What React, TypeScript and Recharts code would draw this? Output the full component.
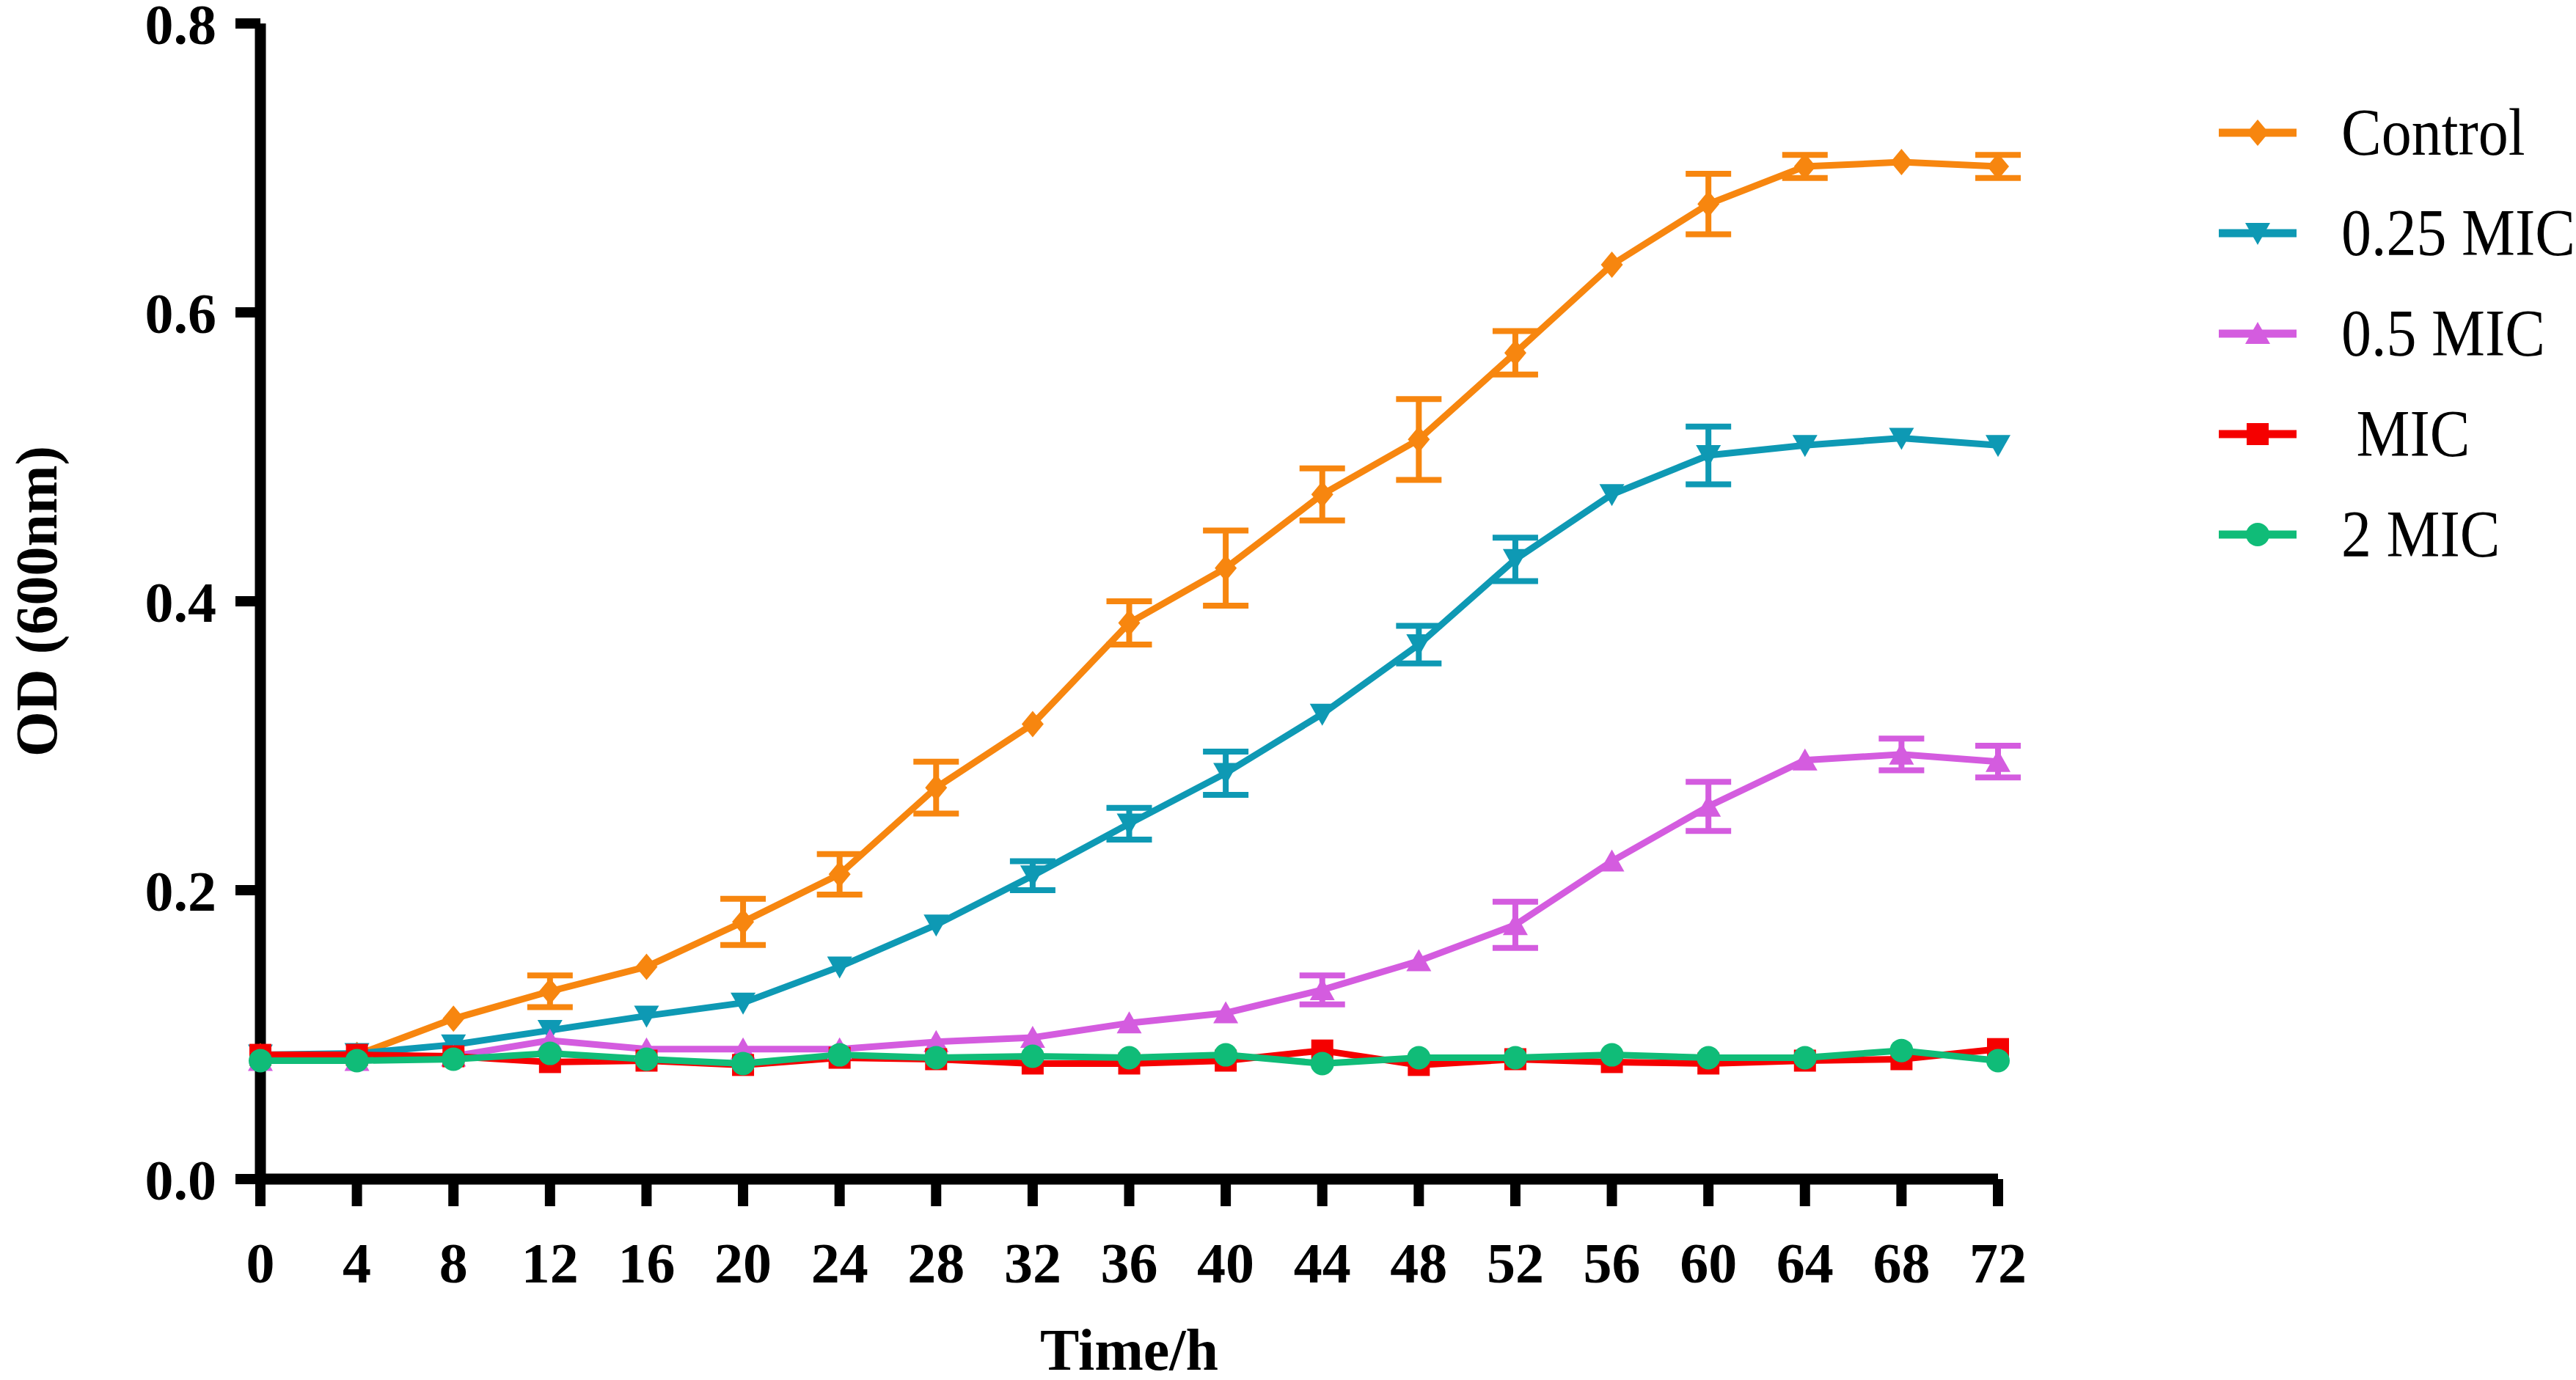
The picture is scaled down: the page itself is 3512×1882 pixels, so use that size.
import { CartesianGrid, ErrorBar, Label, Legend, Line, LineChart, XAxis, YAxis } from 'recharts'

const hours = [0, 4, 8, 12, 16, 20, 24, 28, 32, 36, 40, 44, 48, 52, 56, 60, 64, 68, 72]
const xTicks = [0, 4, 8, 12, 16, 20, 24, 28, 32, 36, 40, 44, 48, 52, 56, 60, 64, 68, 72]
const yTicks = [0, 0.2, 0.4, 0.6, 0.8]

const control = [0.085, 0.086, 0.111, 0.13, 0.147, 0.178, 0.211, 0.271, 0.315, 0.385, 0.423, 0.474, 0.512, 0.572, 0.633, 0.675, 0.701, 0.704, 0.701]
const controlSd = [0, 0, 0, 0.011, 0, 0.016, 0.014, 0.018, 0, 0.015, 0.026, 0.018, 0.028, 0.015, 0, 0.021, 0.008, 0, 0.008]

const mic025 = [0.086, 0.087, 0.093, 0.103, 0.113, 0.122, 0.147, 0.176, 0.21, 0.246, 0.281, 0.322, 0.37, 0.429, 0.474, 0.501, 0.508, 0.513, 0.508]
const mic025Sd = [0, 0, 0, 0, 0, 0, 0, 0, 0.01, 0.011, 0.015, 0, 0.013, 0.015, 0, 0.02, 0, 0, 0]

const mic05 = [0.082, 0.082, 0.085, 0.096, 0.09, 0.09, 0.09, 0.095, 0.098, 0.108, 0.115, 0.131, 0.151, 0.176, 0.22, 0.258, 0.29, 0.294, 0.289]
const mic05Sd = [0, 0, 0, 0, 0, 0, 0, 0, 0, 0, 0, 0.01, 0, 0.016, 0, 0.017, 0, 0.011, 0.011]

const mic1 = [0.086, 0.086, 0.085, 0.081, 0.082, 0.079, 0.084, 0.083, 0.08, 0.08, 0.082, 0.089, 0.079, 0.083, 0.081, 0.08, 0.082, 0.083, 0.09]
const mic2 = [0.082, 0.082, 0.083, 0.087, 0.083, 0.08, 0.086, 0.084, 0.085, 0.084, 0.086, 0.08, 0.084, 0.084, 0.086, 0.084, 0.084, 0.089, 0.082]

type Shape = 'diamond' | 'down' | 'up' | 'square' | 'circle'

const series: { key: string; name: string; color: string; shape: Shape; values: number[]; sd?: number[] }[] = [
  { key: 'control', name: 'Control', color: '#F7860F', shape: 'diamond', values: control, sd: controlSd },
  { key: 'mic025', name: '0.25 MIC', color: '#0E99B4', shape: 'down', values: mic025, sd: mic025Sd },
  { key: 'mic05', name: '0.5 MIC', color: '#D45CDF', shape: 'up', values: mic05, sd: mic05Sd },
  { key: 'mic1', name: ' MIC', color: '#F50000', shape: 'square', values: mic1 },
  { key: 'mic2', name: '2 MIC', color: '#10BC78', shape: 'circle', values: mic2 },
]

const data = hours.map((h, i) => {
  const o: Record<string, number | null> = { h }
  for (const s of series) {
    o[s.key] = s.values[i]
    if (s.sd) o[s.key + 'Sd'] = s.sd[i] || null
  }
  return o
})

const FONT = '"Liberation Serif", "Times New Roman", serif'

function Marker({ shape, color, cx, cy }: { shape: Shape; color: string; cx: number; cy: number }) {
  switch (shape) {
    case 'diamond':
      return <polygon points={`${cx},${cy - 18} ${cx + 15},${cy} ${cx},${cy + 18} ${cx - 15},${cy}`} fill={color} />
    case 'down':
      return <polygon points={`${cx - 17},${cy - 14} ${cx + 17},${cy - 14} ${cx},${cy + 16}`} fill={color} />
    case 'up':
      return <polygon points={`${cx - 17},${cy + 14} ${cx + 17},${cy + 14} ${cx},${cy - 16}`} fill={color} />
    case 'square':
      return <rect x={cx - 15} y={cy - 15} width={30} height={30} fill={color} />
    default:
      return <circle cx={cx} cy={cy} r={16} fill={color} />
  }
}

function LegendBox() {
  return (
    <div style={{ fontFamily: FONT, fontSize: 82, color: '#000' }}>
      {series.map((s) => (
        <div key={s.key} style={{ height: 137, display: 'flex', alignItems: 'center' }}>
          <svg width={106} height={40} style={{ flex: 'none' }}>
            <line x1={0} y1={20} x2={106} y2={20} stroke={s.color} strokeWidth={11} />
            <Marker shape={s.shape} color={s.color} cx={53} cy={20} />
          </svg>
          <span style={{ marginLeft: 61, whiteSpace: 'pre', lineHeight: 1, display: 'inline-block', transform: 'scaleY(1.1)' }}>
            {s.name}
          </span>
        </div>
      ))}
    </div>
  )
}

export default function App() {
  return (
    <div style={{ width: 3512, height: 1882, background: '#fff' }}>
      <style>{'body{margin:0}'}</style>
      <LineChart width={3512} height={1882} data={data} margin={{ top: 32, right: 788, bottom: 0, left: 0 }}>
        <CartesianGrid stroke="none" />
        <XAxis
          dataKey="h"
          type="number"
          domain={[0, 72]}
          ticks={xTicks}
          interval={0}
          height={274}
          tickSize={37}
          tickMargin={49}
          axisLine={{ stroke: '#000', strokeWidth: 15 }}
          tickLine={{ stroke: '#000', strokeWidth: 14 }}
          tick={{ fill: '#000', fontSize: 78, fontWeight: 'bold', fontFamily: FONT }}
        >
          <Label
            content={(p: any) => (
              <text
                x={p.viewBox.x + p.viewBox.width / 2}
                y={p.viewBox.y + 260}
                textAnchor="middle"
                fontFamily={FONT}
                fontWeight="bold"
                fontSize={80}
                fill="#000"
              >
                Time/h
              </text>
            )}
          />
        </XAxis>
        <YAxis
          type="number"
          domain={[0, 0.8]}
          ticks={yTicks}
          interval={0}
          width={355}
          tickSize={34}
          tickMargin={26}
          tickFormatter={(v: number) => v.toFixed(1)}
          axisLine={{ stroke: '#000', strokeWidth: 15 }}
          tickLine={{ stroke: '#000', strokeWidth: 14 }}
          tick={{ fill: '#000', fontSize: 78, fontWeight: 'bold', fontFamily: FONT }}
        >
          <Label
            content={(p: any) => {
              const x = p.viewBox.x + 77
              const y = p.viewBox.y + p.viewBox.height / 2
              return (
                <text
                  x={x}
                  y={y}
                  transform={`rotate(-90, ${x}, ${y})`}
                  textAnchor="middle"
                  fontFamily={FONT}
                  fontWeight="bold"
                  fontSize={80}
                  fill="#000"
                >
                  OD (600nm)
                </text>
              )
            }}
          />
        </YAxis>
        <Legend
          layout="vertical"
          align="center"
          verticalAlign="middle"
          wrapperStyle={{ left: 3025, top: 112, width: 480 }}
          content={() => <LegendBox />}
        />
        {series.map((s) => (
          <Line
            key={s.key}
            dataKey={s.key}
            name={s.name}
            type="linear"
            stroke={s.color}
            strokeWidth={9}
            isAnimationActive={false}
            activeDot={false}
            dot={(p: any) => <Marker key={`${s.key}-${p.index}`} shape={s.shape} color={s.color} cx={p.cx} cy={p.cy} />}
          >
            {s.sd && (
              <ErrorBar dataKey={s.key + 'Sd'} direction="y" width={31} strokeWidth={8} stroke={s.color} isAnimationActive={false} />
            )}
          </Line>
        ))}
      </LineChart>
    </div>
  )
}
